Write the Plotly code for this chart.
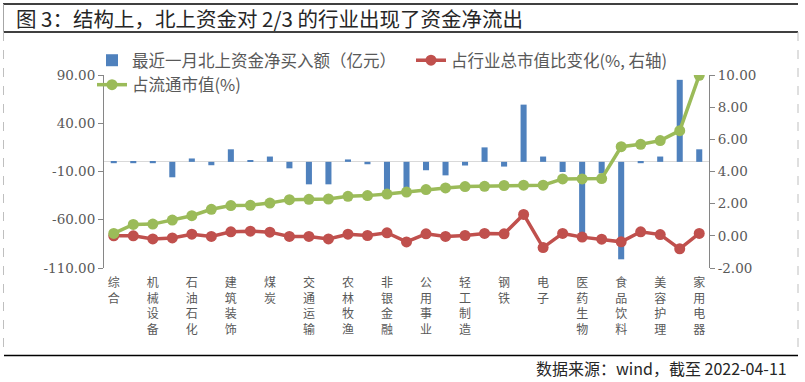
import plotly.graph_objects as go

categories = ["综合", "纺织服饰", "机械设备", "商贸零售", "石油石化", "房地产", "建筑装饰", "环保",
              "煤炭", "传媒", "交通运输", "社会服务", "农林牧渔", "国防军工", "非银金融", "通信",
              "公用事业", "计算机", "轻工制造", "基础化工", "钢铁", "银行", "电子", "有色金属",
              "医药生物", "汽车", "食品饮料", "建筑材料", "美容护理", "电力设备", "家用电器"]

net_buy = [-1.4, -1.4, -1.4, -16.0, 3.5, -3.5, 13.0, 1.4, 5.5, -6.7, -23.3, -23.3, 2.5, -2.5,
           -30.0, -28.0, -8.7, -14.0, -3.8, 15.0, -4.9, 59.3, 5.5, -10.5, -77.0, -12.0, -101.0,
           -1.4, 5.5, 85.0, 13.0]

float_share = [0.15, 0.71, 0.73, 0.98, 1.25, 1.65, 1.88, 1.90, 2.04, 2.25, 2.27, 2.29, 2.46, 2.50,
               2.60, 2.72, 2.875, 2.98, 3.06, 3.08, 3.13, 3.15, 3.15, 3.54, 3.54, 3.56, 5.54, 5.69,
               5.92, 6.54, 9.98]

share_change = [0.0, 0.0, -0.19, -0.13, 0.10, -0.04, 0.25, 0.29, 0.23, -0.04, -0.04, -0.19, 0.10,
                0.02, 0.19, -0.38, 0.125, -0.04, 0.02, 0.15, 0.125, 1.33, -0.73, 0.15, -0.08, -0.21,
                -0.375, 0.25, 0.08, -0.81, 0.15]

left_ticks = [-110, -60, -10, 40, 90]
right_ticks = [-2, 0, 2, 4, 6, 8, 10]

title_text = "图 3：结构上，北上资金对 2/3 的行业出现了资金净流出"
source_text = "数据来源：wind，截至 2022-04-11"
names = ["最近一月北上资金净买入额（亿元）", "占行业总市值比变化(%, 右轴)", "占流通市值(%)"]

BLUE = "#4F81BD"
RED = "#C0504D"
GREEN = "#9BBB59"
GRAY_TXT = "#595959"
AXIS = "#868686"

W, H = 805, 382
ML, MR, MT, MB = 104, 96, 75, 114
PW = W - ML - MR
PH = H - MT - MB


def px_x(px):
    return (px - ML) / PW


def px_y(py):
    return (H - MB - py) / PH


fig = go.Figure()
fig.add_trace(go.Bar(x=categories, y=net_buy, name=names[0], marker_color=BLUE,
                     marker_line_width=0, yaxis="y"))
fig.add_trace(go.Scatter(x=categories, y=share_change, name=names[1], mode="lines+markers",
                         line=dict(color=RED, width=3.5), marker=dict(color=RED, size=11),
                         yaxis="y2"))
fig.add_trace(go.Scatter(x=categories, y=float_share, name=names[2], mode="lines+markers",
                         line=dict(color=GREEN, width=3.5), marker=dict(color=GREEN, size=11),
                         yaxis="y2"))

even_cats = categories[::2]
fig.update_layout(
    width=W, height=H,
    margin=dict(l=ML, r=MR, t=MT, b=MB, pad=0),
    paper_bgcolor="white", plot_bgcolor="white",
    bargap=0.69,
    font=dict(family="Noto Sans CJK SC", color=GRAY_TXT),
    xaxis=dict(type="category", range=[-0.5, len(categories) - 0.5],
               tickvals=even_cats, ticktext=["<br>".join(list(c)) for c in even_cats],
               tickfont=dict(size=12, color=GRAY_TXT, family="DejaVu Sans, Noto Sans CJK SC"),
               showline=False, ticks="", showgrid=False, zeroline=False,
               ticklabelstandoff=6),
    yaxis=dict(range=[-110, 90], tickvals=left_ticks, ticktext=[f"{v:.2f}" for v in left_ticks],
               showline=True, linecolor=AXIS, linewidth=1, ticks="outside", ticklen=5,
               tickcolor=AXIS, showgrid=False, zeroline=True, zerolinecolor="#D9D9D9",
               zerolinewidth=1,
               tickfont=dict(family="DejaVu Serif", size=13.5, color=GRAY_TXT)),
    yaxis2=dict(range=[-2, 10], tickvals=right_ticks, ticktext=[f"{v:.2f}" for v in right_ticks],
                overlaying="y", side="right", showline=True, linecolor=AXIS, linewidth=1,
                ticks="outside", ticklen=5, tickcolor=AXIS, showgrid=False, zeroline=False,
                tickfont=dict(family="DejaVu Serif", size=13.5, color=GRAY_TXT)),
    legend=dict(orientation="h", x=px_x(92), y=px_y(43), xanchor="left", yanchor="top",
                entrywidth=274, entrywidthmode="pixels", bgcolor="rgba(0,0,0,0)",
                font=dict(size=16.5, color=GRAY_TXT, family="Noto Sans CJK SC"),
                itemwidth=30),
    showlegend=True,
)

shapes = [
    dict(type="line", xref="paper", yref="paper", x0=px_x(3), x1=px_x(798), y0=px_y(4), y1=px_y(4),
         line=dict(color="#000000", width=1.5)),
    dict(type="line", xref="paper", yref="paper", x0=px_x(3), x1=px_x(798), y0=px_y(32), y1=px_y(32),
         line=dict(color="#000000", width=1.5)),
    dict(type="line", xref="paper", yref="paper", x0=px_x(4), x1=px_x(798), y0=px_y(355.5),
         y1=px_y(355.5), line=dict(color="#000000", width=1.5)),
    dict(type="line", xref="paper", yref="paper", x0=px_x(3.5), x1=px_x(3.5), y0=px_y(4),
         y1=px_y(32), line=dict(color="#A6A6A6", width=1)),
    dict(type="line", xref="paper", yref="paper", x0=px_x(3.5), x1=px_x(3.5), y0=px_y(32),
         y1=px_y(355.5), line=dict(color="#BFBFBF", width=1, dash="dash")),
    dict(type="line", xref="paper", yref="paper", x0=px_x(798), x1=px_x(798), y0=px_y(32),
         y1=px_y(355.5), line=dict(color="#BFBFBF", width=1, dash="dash")),
]
fig.update_layout(shapes=shapes)

fig.add_annotation(text=title_text, xref="paper", yref="paper", x=px_x(14), y=px_y(18),
                   xanchor="left", yanchor="middle", showarrow=False,
                   font=dict(size=20.5, color="#262626", family="Noto Sans CJK SC"))
fig.add_annotation(text=source_text, xref="paper", yref="paper", x=px_x(789), y=px_y(368),
                   xanchor="right", yanchor="middle", showarrow=False,
                   font=dict(size=16, color="#262626", family="Noto Sans CJK SC"))

fig.write_html("out.html", config={"displayModeBar": False},
               post_script="document.body.style.margin='0px';document.body.style.overflow='hidden';")
